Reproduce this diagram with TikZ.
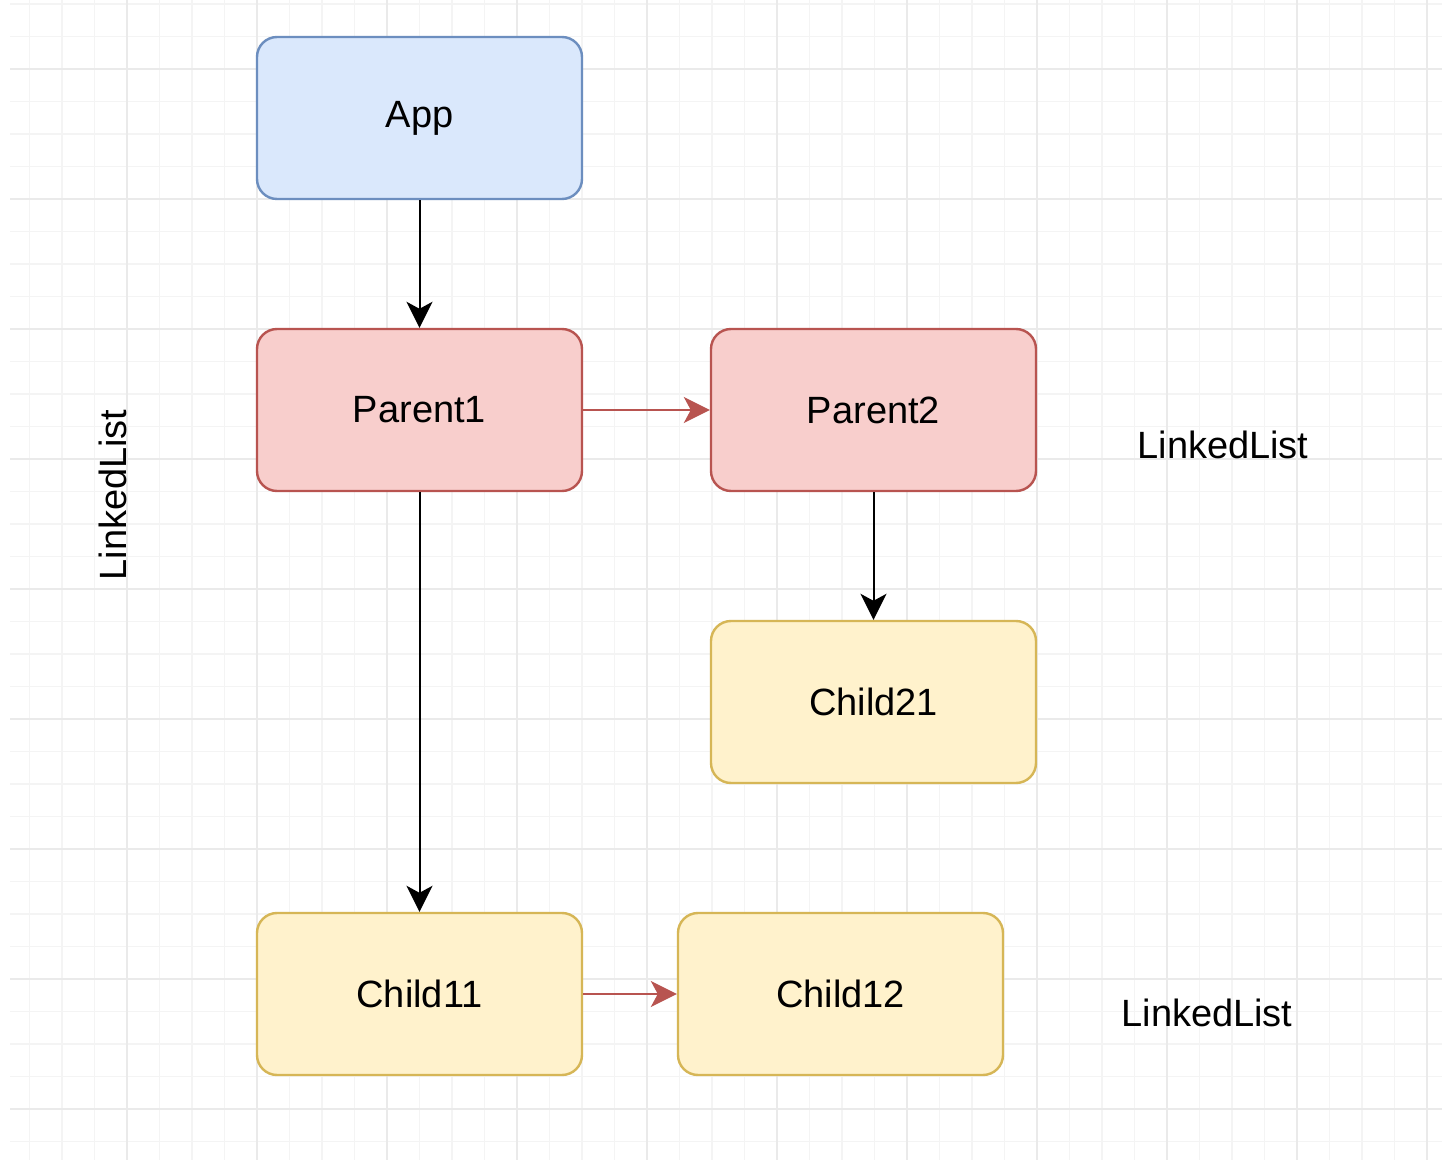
\documentclass[tikz,border=0pt]{standalone}
\usepackage{fontspec}
\setmainfont{Liberation Sans}
\usetikzlibrary{arrows.meta}

\definecolor{appfill}{HTML}{DAE8FC}
\definecolor{appline}{HTML}{6C8EBF}
\definecolor{parentfill}{HTML}{F8CECC}
\definecolor{parentline}{HTML}{B85450}
\definecolor{childfill}{HTML}{FFF2CC}
\definecolor{childline}{HTML}{D6B656}
\definecolor{gridmajor}{HTML}{EAEAEA}
\definecolor{gridminor}{HTML}{F4F4F4}

\begin{document}
\begin{tikzpicture}[x=0.5pt, y=-0.5pt,
  box/.style = {shape=rectangle, rounded corners=10pt, draw, line width=1.2pt,
    minimum width=162.5pt, minimum height=81pt, align=center,
    font=\fontsize{19}{23}\selectfont},
  appbox/.style = {box, fill=appfill, draw=appline},
  parentbox/.style = {box, fill=parentfill, draw=parentline},
  childbox/.style = {box, fill=childfill, draw=childline},
  note/.style = {font=\fontsize{19}{23}\selectfont},
  link/.style = {-{Stealth[length=13pt, width=13pt, inset=3.5pt]}, line width=1pt},
  redlink/.style = {link, draw=parentline, fill=parentline}]

  \useasboundingbox (0,0) rectangle (1442,1160);
  \fill[white] (0,0) rectangle (1442,1160);

  % grid
  \foreach \i in {0,...,43}
    \draw[gridminor, line width=0.6pt] ({29.5+32.5*\i},0) -- ++(0,1160);
  \foreach \i in {0,...,35}
    \draw[gridminor, line width=0.6pt] (10,{4+32.5*\i}) -- (1442,{4+32.5*\i});
  \foreach \i in {0,...,10}
    \draw[gridmajor, line width=0.8pt] ({127+130*\i},0) -- ++(0,1160);
  \foreach \i in {0,...,8}
    \draw[gridmajor, line width=0.8pt] (10,{69+130*\i}) -- (1442,{69+130*\i});

  % nodes
  \node[appbox] (app) at (419.5,118) {App};
  \node[parentbox] (parent1) at (419.5,410) {Parent1};
  \node[parentbox] (parent2) at (873.5,410) {Parent2};
  \node[childbox] (child21) at (873.5,702) {Child21};
  \node[childbox] (child11) at (419.5,994) {Child11};
  \node[childbox] (child12) at (840.5,994) {Child12};

  \node[note] (listtop) at (1223,445) {LinkedList};
  \node[note] (listbottom) at (1207,1013) {LinkedList};
  \node[note, rotate=90] (listside) at (113,495) {LinkedList};

  % connectors
  \draw[link] (app) -- (parent1);
  \draw[link] (parent1) -- (child11);
  \draw[link] (parent2) -- (child21);
  \draw[redlink] (parent1) -- (parent2);
  \draw[redlink] (child11) -- (child12);
\end{tikzpicture}
\end{document}
